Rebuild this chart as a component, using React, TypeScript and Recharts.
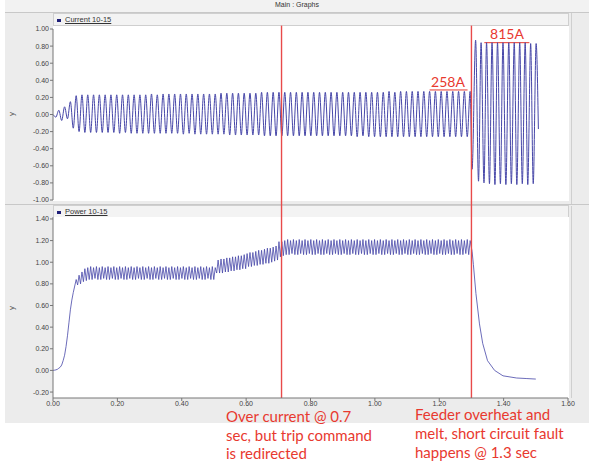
import { LineChart, Line, XAxis, YAxis, ReferenceLine } from "recharts";

// pre-fault records are sampled at fixed steps, starting at t = 0
const CURRENT_STEP = 0.009;
const POWER_STEP = 0.0045;

const currentPreFault = [
  0.0, -0.03, 0.05, -0.07, 0.09, -0.05, 0.15, -0.16, 0.22, -0.2,
  0.23, -0.21, 0.23, -0.21, 0.23, -0.21, 0.23, -0.21, 0.23, -0.21,
  0.23, -0.21, 0.23, -0.22, 0.23, -0.21, 0.23, -0.22, 0.23, -0.22,
  0.23, -0.22, 0.23, -0.22, 0.24, -0.22, 0.23, -0.22, 0.24, -0.22,
  0.24, -0.22, 0.24, -0.22, 0.24, -0.23, 0.24, -0.22, 0.24, -0.23,
  0.24, -0.23, 0.24, -0.23, 0.24, -0.23, 0.24, -0.23, 0.25, -0.23,
  0.25, -0.24, 0.25, -0.24, 0.25, -0.24, 0.25, -0.24, 0.25, -0.24,
  0.25, -0.24, 0.26, -0.25, 0.26, -0.25, 0.26, -0.25, 0.26, -0.25,
  0.26, -0.25, 0.26, -0.25, 0.26, -0.25, 0.26, -0.25, 0.26, -0.25,
  0.26, -0.25, 0.26, -0.25, 0.26, -0.25, 0.26, -0.25, 0.26, -0.25,
  0.26, -0.25, 0.26, -0.25, 0.26, -0.26, 0.26, -0.25, 0.26, -0.26,
  0.26, -0.26, 0.26, -0.26, 0.26, -0.26, 0.27, -0.26, 0.26, -0.26,
  0.27, -0.26, 0.27, -0.26, 0.27, -0.26, 0.27, -0.26, 0.27, -0.26,
  0.27, -0.26, 0.27, -0.26, 0.27, -0.26, 0.27, -0.26, 0.27, -0.26,
  0.27, -0.26, 0.27, -0.26, 0.27,
];
const currentPostTime = [
  1.302, 1.313, 1.322, 1.33, 1.339, 1.347, 1.356, 1.364, 1.373, 1.381,
  1.39, 1.398, 1.407, 1.416, 1.424, 1.433, 1.441, 1.45, 1.458, 1.467,
  1.475, 1.484, 1.492, 1.501, 1.508,
];
const currentPostValue = [
  -0.64, 0.87, -0.78, 0.84, -0.8, 0.84, -0.81, 0.84, -0.82, 0.84,
  -0.81, 0.84, -0.82, 0.84, -0.81, 0.84, -0.82, 0.84, -0.81, 0.84,
  -0.82, 0.83, -0.81, 0.83, -0.17,
];

const powerPreFault = [
  0.0, 0.002, 0.005, 0.01, 0.02, 0.03, 0.05, 0.09, 0.14, 0.22,
  0.32, 0.44, 0.56, 0.65, 0.72, 0.78, 0.84, 0.79, 0.88, 0.8,
  0.91, 0.82, 0.94, 0.83, 0.95, 0.84, 0.96, 0.84, 0.95, 0.85,
  0.96, 0.84, 0.95, 0.84, 0.96, 0.85, 0.95, 0.84, 0.96, 0.84,
  0.95, 0.85, 0.96, 0.84, 0.95, 0.84, 0.96, 0.85, 0.95, 0.84,
  0.96, 0.84, 0.95, 0.85, 0.96, 0.84, 0.95, 0.84, 0.96, 0.85,
  0.95, 0.84, 0.96, 0.84, 0.95, 0.85, 0.96, 0.84, 0.95, 0.84,
  0.96, 0.85, 0.95, 0.84, 0.96, 0.84, 0.95, 0.85, 0.96, 0.84,
  0.95, 0.84, 0.96, 0.85, 0.95, 0.84, 0.96, 0.84, 0.95, 0.85,
  0.96, 0.84, 0.95, 0.84, 0.96, 0.85, 0.95, 0.84, 0.96, 0.84,
  0.95, 0.85, 0.96, 0.84, 0.95, 0.84, 0.96, 0.85, 0.95, 0.84,
  0.96, 0.84, 0.95, 0.9, 1.02, 0.9, 1.03, 0.9, 1.03, 0.91,
  1.04, 0.91, 1.04, 0.92, 1.05, 0.92, 1.05, 0.93, 1.06, 0.93,
  1.06, 0.94, 1.07, 0.94, 1.08, 0.96, 1.09, 0.96, 1.09, 0.97,
  1.1, 0.97, 1.11, 0.98, 1.11, 0.98, 1.12, 0.99, 1.13, 0.99,
  1.13, 1.0, 1.14, 1.01, 1.15, 1.02, 1.19, 1.05, 1.19, 1.06,
  1.2, 1.07, 1.21, 1.07, 1.2, 1.08, 1.21, 1.07, 1.2, 1.07,
  1.21, 1.08, 1.2, 1.07, 1.21, 1.07, 1.2, 1.08, 1.21, 1.07,
  1.2, 1.07, 1.21, 1.08, 1.2, 1.07, 1.21, 1.07, 1.2, 1.08,
  1.21, 1.07, 1.2, 1.07, 1.21, 1.08, 1.2, 1.07, 1.21, 1.07,
  1.2, 1.08, 1.21, 1.07, 1.2, 1.07, 1.21, 1.08, 1.2, 1.07,
  1.21, 1.07, 1.2, 1.08, 1.21, 1.07, 1.2, 1.07, 1.21, 1.08,
  1.2, 1.07, 1.21, 1.07, 1.2, 1.08, 1.21, 1.07, 1.2, 1.07,
  1.21, 1.08, 1.2, 1.07, 1.21, 1.07, 1.2, 1.08, 1.21, 1.07,
  1.2, 1.07, 1.21, 1.08, 1.2, 1.07, 1.21, 1.07, 1.2, 1.08,
  1.21, 1.07, 1.2, 1.07, 1.21, 1.08, 1.2, 1.07, 1.21, 1.07,
  1.2, 1.08, 1.21, 1.07, 1.2, 1.07, 1.21, 1.08, 1.2, 1.07,
  1.21, 1.07, 1.2, 1.08, 1.21, 1.07, 1.2, 1.07, 1.21, 1.08,
  1.2, 1.07, 1.21, 1.07, 1.2, 1.08, 1.21, 1.07, 1.2,
];
const powerPostTime = [1.302, 1.306, 1.314, 1.325, 1.335, 1.35, 1.372, 1.398, 1.44, 1.47, 1.5];
const powerPostValue = [1.1, 0.98, 0.71, 0.43, 0.25, 0.09, 0.0, -0.05, -0.07, -0.075, -0.08];

const timeTicks = [0, 0.2, 0.4, 0.6, 0.8, 1.0, 1.2, 1.4, 1.6];
const currentTicks = [-1, -0.8, -0.6, -0.4, -0.2, 0, 0.2, 0.4, 0.6, 0.8, 1];
const powerTicks = [-0.2, 0, 0.2, 0.4, 0.6, 0.8, 1.0, 1.2, 1.4];

const OVER_CURRENT_T = 0.71;
const FAULT_T = 1.3;
const eventTimes = [OVER_CURRENT_T, FAULT_T];

const buildSeries = (pre: number[], step: number, postT: number[], postV: number[]) => [
  ...pre.map((v, i) => ({ t: +(i * step).toFixed(4), v })),
  ...postT.map((t, i) => ({ t, v: postV[i] })),
];

const currentData = buildSeries(currentPreFault, CURRENT_STEP, currentPostTime, currentPostValue);
const powerData = buildSeries(powerPreFault, POWER_STEP, powerPostTime, powerPostValue);

const W = 589;
const H = 467;
const WAVE = "#4646a8";
const RED = "#e8392f";
const RED_LINE = "#e84a4a";
const tickStyle = { fontSize: 7, fill: "#444", fontFamily: "Liberation Sans" };
const fmt = (v: number) => v.toFixed(2);

const box = (left: number, top: number, width: number, height: number, extra = {}) => ({
  position: "absolute" as const,
  left,
  top,
  width,
  height,
  boxSizing: "border-box" as const,
  ...extra,
});

const Legend = ({ top, label }: { top: number; label: string }) => (
  <div style={box(53, top, 516, 13, { background: "#f3f3f3", border: "1px solid #cfcfcf" })}>
    <div style={box(3, 5, 4, 3, { background: "#1e1e78" })} />
    <span
      style={{
        position: "absolute",
        left: 11,
        top: 1,
        fontSize: 7.5,
        fontFamily: "Liberation Sans",
        color: "#333",
        textDecoration: "underline",
        lineHeight: "10px",
      }}
    >
      {label}
    </span>
  </div>
);

const App = () => {
  return (
    <div style={{ position: "absolute", left: 0, top: 0, width: W, height: H, background: "#fff", overflow: "hidden" }}>
      {/* window frame */}
      <div style={box(5, 0, 584, 423, { background: "#ececec" })} />
      <div style={box(5, 0, 584, 13, { background: "#f2f2f2", borderBottom: "1px solid #c8c8c8" })}>
        <span
          style={{
            position: "absolute",
            left: 0,
            width: 584,
            textAlign: "center",
            top: 1,
            fontSize: 7,
            fontFamily: "Liberation Sans",
            color: "#333",
          }}
        >
          Main : Graphs
        </span>
      </div>
      <div style={box(5, 204, 584, 1, { background: "#c8c8c8" })} />
      <div style={box(571, 13, 18, 191, { borderLeft: "1px solid #cfcfcf" })} />
      <div style={box(571, 206, 18, 192, { borderLeft: "1px solid #cfcfcf" })} />

      <Legend top={13} label="Current 10-15" />
      <div style={box(53, 26, 516, 175, { background: "#fff" })} />
      <Legend top={205} label="Power 10-15" />
      <div style={box(53, 217, 516, 181, { background: "#fff" })} />

      <div style={{ position: "absolute", left: 0, top: 0 }}>
        <LineChart width={W} height={H} data={currentData} margin={{ top: 29, right: 21, bottom: 267, left: 0 }}>
          <XAxis type="number" dataKey="t" domain={[0, 1.6]} hide />
          <YAxis
            type="number"
            domain={[-1, 1]}
            ticks={currentTicks}
            interval={0}
            width={53}
            tickFormatter={fmt}
            tick={tickStyle}
            tickSize={3}
            tickMargin={1}
            stroke="#777"
          />
          <ReferenceLine
            segment={[{ x: 1.17, y: 0.287 }, { x: 1.288, y: 0.287 }]}
            stroke={RED}
            strokeWidth={1}
          />
          <ReferenceLine
            segment={[{ x: 1.34, y: 0.84 }, { x: 1.48, y: 0.84 }]}
            stroke={RED}
            strokeWidth={1}
          />
          <Line type="monotone" dataKey="v" stroke={WAVE} strokeWidth={1} dot={false} isAnimationActive={false} />
          {/* event markers, carried up from the panel top to the legend bar */}
          {eventTimes.map((t) => (
            <ReferenceLine
              key={t}
              segment={[{ x: t, y: -1.2 }, { x: t, y: 1.04 }]}
              ifOverflow="visible"
              stroke={RED_LINE}
              strokeWidth={1.4}
            />
          ))}
        </LineChart>
      </div>

      <div style={{ position: "absolute", left: 0, top: 0 }}>
        <LineChart width={W} height={H} data={powerData} margin={{ top: 217, right: 21, bottom: 49, left: 0 }}>
          <XAxis
            type="number"
            dataKey="t"
            domain={[0, 1.6]}
            ticks={timeTicks}
            interval={0}
            height={20}
            tickFormatter={fmt}
            tick={tickStyle}
            tickSize={3}
            tickMargin={0}
            stroke="#777"
          />
          <YAxis
            type="number"
            domain={[-0.255, 1.418]}
            ticks={powerTicks}
            interval={0}
            width={53}
            tickFormatter={fmt}
            tick={tickStyle}
            tickSize={3}
            tickMargin={1}
            stroke="#777"
          />
          <Line type="linear" dataKey="v" stroke={WAVE} strokeWidth={0.8} dot={false} isAnimationActive={false} />
          {eventTimes.map((t) => (
            <ReferenceLine key={t} x={t} stroke={RED_LINE} strokeWidth={1.4} />
          ))}
        </LineChart>
      </div>

      <svg width={W} height={H} style={{ position: "absolute", left: 0, top: 0, pointerEvents: "none" }}>
        <g fontFamily="Liberation Sans" fontSize={8} fill="#555">
          <text x={14} y={114} transform="rotate(-90 14 114)" textAnchor="middle">y</text>
          <text x={14} y={308} transform="rotate(-90 14 308)" textAnchor="middle">y</text>
        </g>
        <g fontFamily="Lato" fill={RED}>
          <text x={507} y={39} fontSize={14} textAnchor="middle">815A</text>
          <text x={448} y={87} fontSize={14} textAnchor="middle">258A</text>
        </g>
        <g fontFamily="Lato" fontSize={15} fill={RED}>
          <text x={226} y={422}>Over current @ 0.7</text>
          <text x={226} y={441}>sec, but trip command</text>
          <text x={226} y={459}>is redirected</text>
          <text x={415} y={420}>Feeder overheat and</text>
          <text x={415} y={439}>melt, short circuit fault</text>
          <text x={415} y={458}>happens @ 1.3 sec</text>
        </g>
      </svg>
    </div>
  );
};

export default App;
